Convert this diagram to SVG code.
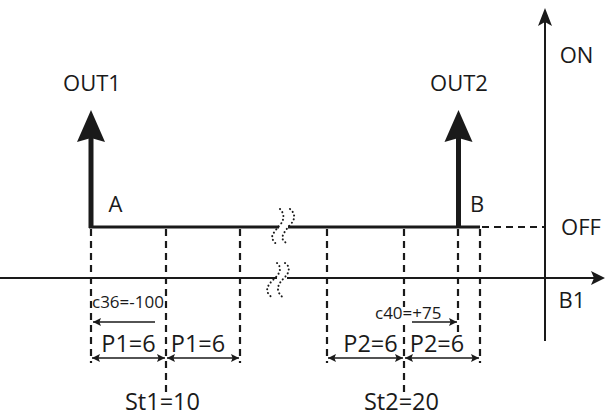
<svg xmlns="http://www.w3.org/2000/svg" width="605" height="416" viewBox="0 0 605 416">
<defs>
<style>
.t{font-family:"Open Sans","Liberation Sans",sans-serif;fill:#1a1a1a}
.big{font-size:22px}
.dim{font-size:23.5px;text-anchor:middle}
.sm{font-size:17px}
.ax{stroke:#1a1a1a;stroke-width:2;fill:none}
.dash{stroke:#1a1a1a;stroke-width:2.2;stroke-dasharray:7 5;fill:none}
.thin{stroke:#1a1a1a;stroke-width:1.5;fill:none}
.dot{stroke:#1a1a1a;stroke-width:2;stroke-dasharray:0.1 3.8;stroke-linecap:round;fill:none}
</style>
<marker id="ah" viewBox="0 0 10 10" refX="10" refY="5" markerWidth="9" markerHeight="8" markerUnits="userSpaceOnUse" orient="auto-start-reverse">
<path d="M0,0 L10,5 L0,10 L2,5 Z" fill="#1a1a1a"/>
</marker>
</defs>
<rect width="605" height="416" fill="#fff"/>

<g id="connectors">
<line class="ax" x1="0" y1="278" x2="594" y2="278"/>
<path d="M605,278 L591,271 L594,278 L591,285 Z" fill="#1a1a1a"/>
<line class="ax" x1="545" y1="20" x2="545" y2="341"/>
<path d="M545,8 L538,26 L545,22 L552,26 Z" fill="#1a1a1a"/>
<line x1="89" y1="227" x2="480" y2="227" stroke="#1a1a1a" stroke-width="3"/>
<line class="dash" x1="482" y1="227" x2="545" y2="227"/>
<line class="dash" x1="91" y1="229" x2="91" y2="363"/>
<line class="dash" x1="166" y1="229" x2="166" y2="396"/>
<line class="dash" x1="240" y1="229" x2="240" y2="363"/>
<line class="dash" x1="327" y1="229" x2="327" y2="363"/>
<line class="dash" x1="404" y1="229" x2="404" y2="396"/>
<line class="dash" x1="458" y1="229" x2="458" y2="332"/>
<line class="dash" x1="480" y1="229" x2="480" y2="363"/>
<rect x="279" y="224" width="9" height="6" fill="#fff"/>
<rect x="277" y="276" width="10" height="5" fill="#fff"/>
<path class="dot" d="M280,209 C284,213 285,219 280,225 C275,231 270,236 273,240 L276,244"/>
<path class="dot" d="M290,209 C295,213 296,219 290,225 C285,231 281,236 283,240 L287,244"/>
<path class="dot" d="M277,263 C281,266 281,272 276,277 C271,282 265,287 268,293 L272,298"/>
<path class="dot" d="M285,263 C290,266 290,272 285,277 C280,282 276,287 279,293 L283,298"/>
<rect x="400" y="307" width="9" height="17" fill="#fff"/>
<line class="thin" x1="155" y1="322" x2="93" y2="322" marker-end="url(#ah)"/>
<line class="thin" x1="412" y1="322" x2="457" y2="322" marker-end="url(#ah)"/>
<line class="thin" x1="92" y1="358" x2="165" y2="358" marker-start="url(#ah)" marker-end="url(#ah)"/>
<line class="thin" x1="167" y1="358" x2="239" y2="358" marker-start="url(#ah)" marker-end="url(#ah)"/>
<line class="thin" x1="328" y1="358" x2="403" y2="358" marker-start="url(#ah)" marker-end="url(#ah)"/>
<line class="thin" x1="405" y1="358" x2="479" y2="358" marker-start="url(#ah)" marker-end="url(#ah)"/>
</g>

<g id="out1">
<rect x="88.5" y="138" width="5" height="90" fill="#1a1a1a"/>
<path d="M91,110 L77,142 L91,138 L105,142 Z" fill="#1a1a1a"/>
<text class="t big" x="92" y="91" text-anchor="middle">OUT1</text>
<text class="t big" x="115.5" y="212" text-anchor="middle">A</text>
</g>

<g id="out2">
<rect x="456" y="138" width="5" height="90" fill="#1a1a1a"/>
<path d="M458.5,110 L444.5,142 L458.5,138 L472.5,142 Z" fill="#1a1a1a"/>
<text class="t big" x="459" y="91" text-anchor="middle">OUT2</text>
<text class="t big" x="477" y="212" text-anchor="middle">B</text>
</g>

<g id="labels">
<text class="t big" x="576.5" y="63" text-anchor="middle">ON</text>
<text class="t big" x="581" y="234.5" text-anchor="middle">OFF</text>
<text class="t big" x="572" y="307.5" text-anchor="middle">B1</text>
<text class="t sm" x="92" y="308">c36=-100</text>
<text class="t sm" x="375" y="319">c40=+75</text>
<text class="t dim" x="128.5" y="352">P1=6</text>
<text class="t dim" x="198" y="352">P1=6</text>
<text class="t dim" x="370.5" y="352">P2=6</text>
<text class="t dim" x="437" y="352">P2=6</text>
<text class="t dim" x="162.5" y="410">St1=10</text>
<text class="t dim" x="401.5" y="410">St2=20</text>
</g>
</svg>
